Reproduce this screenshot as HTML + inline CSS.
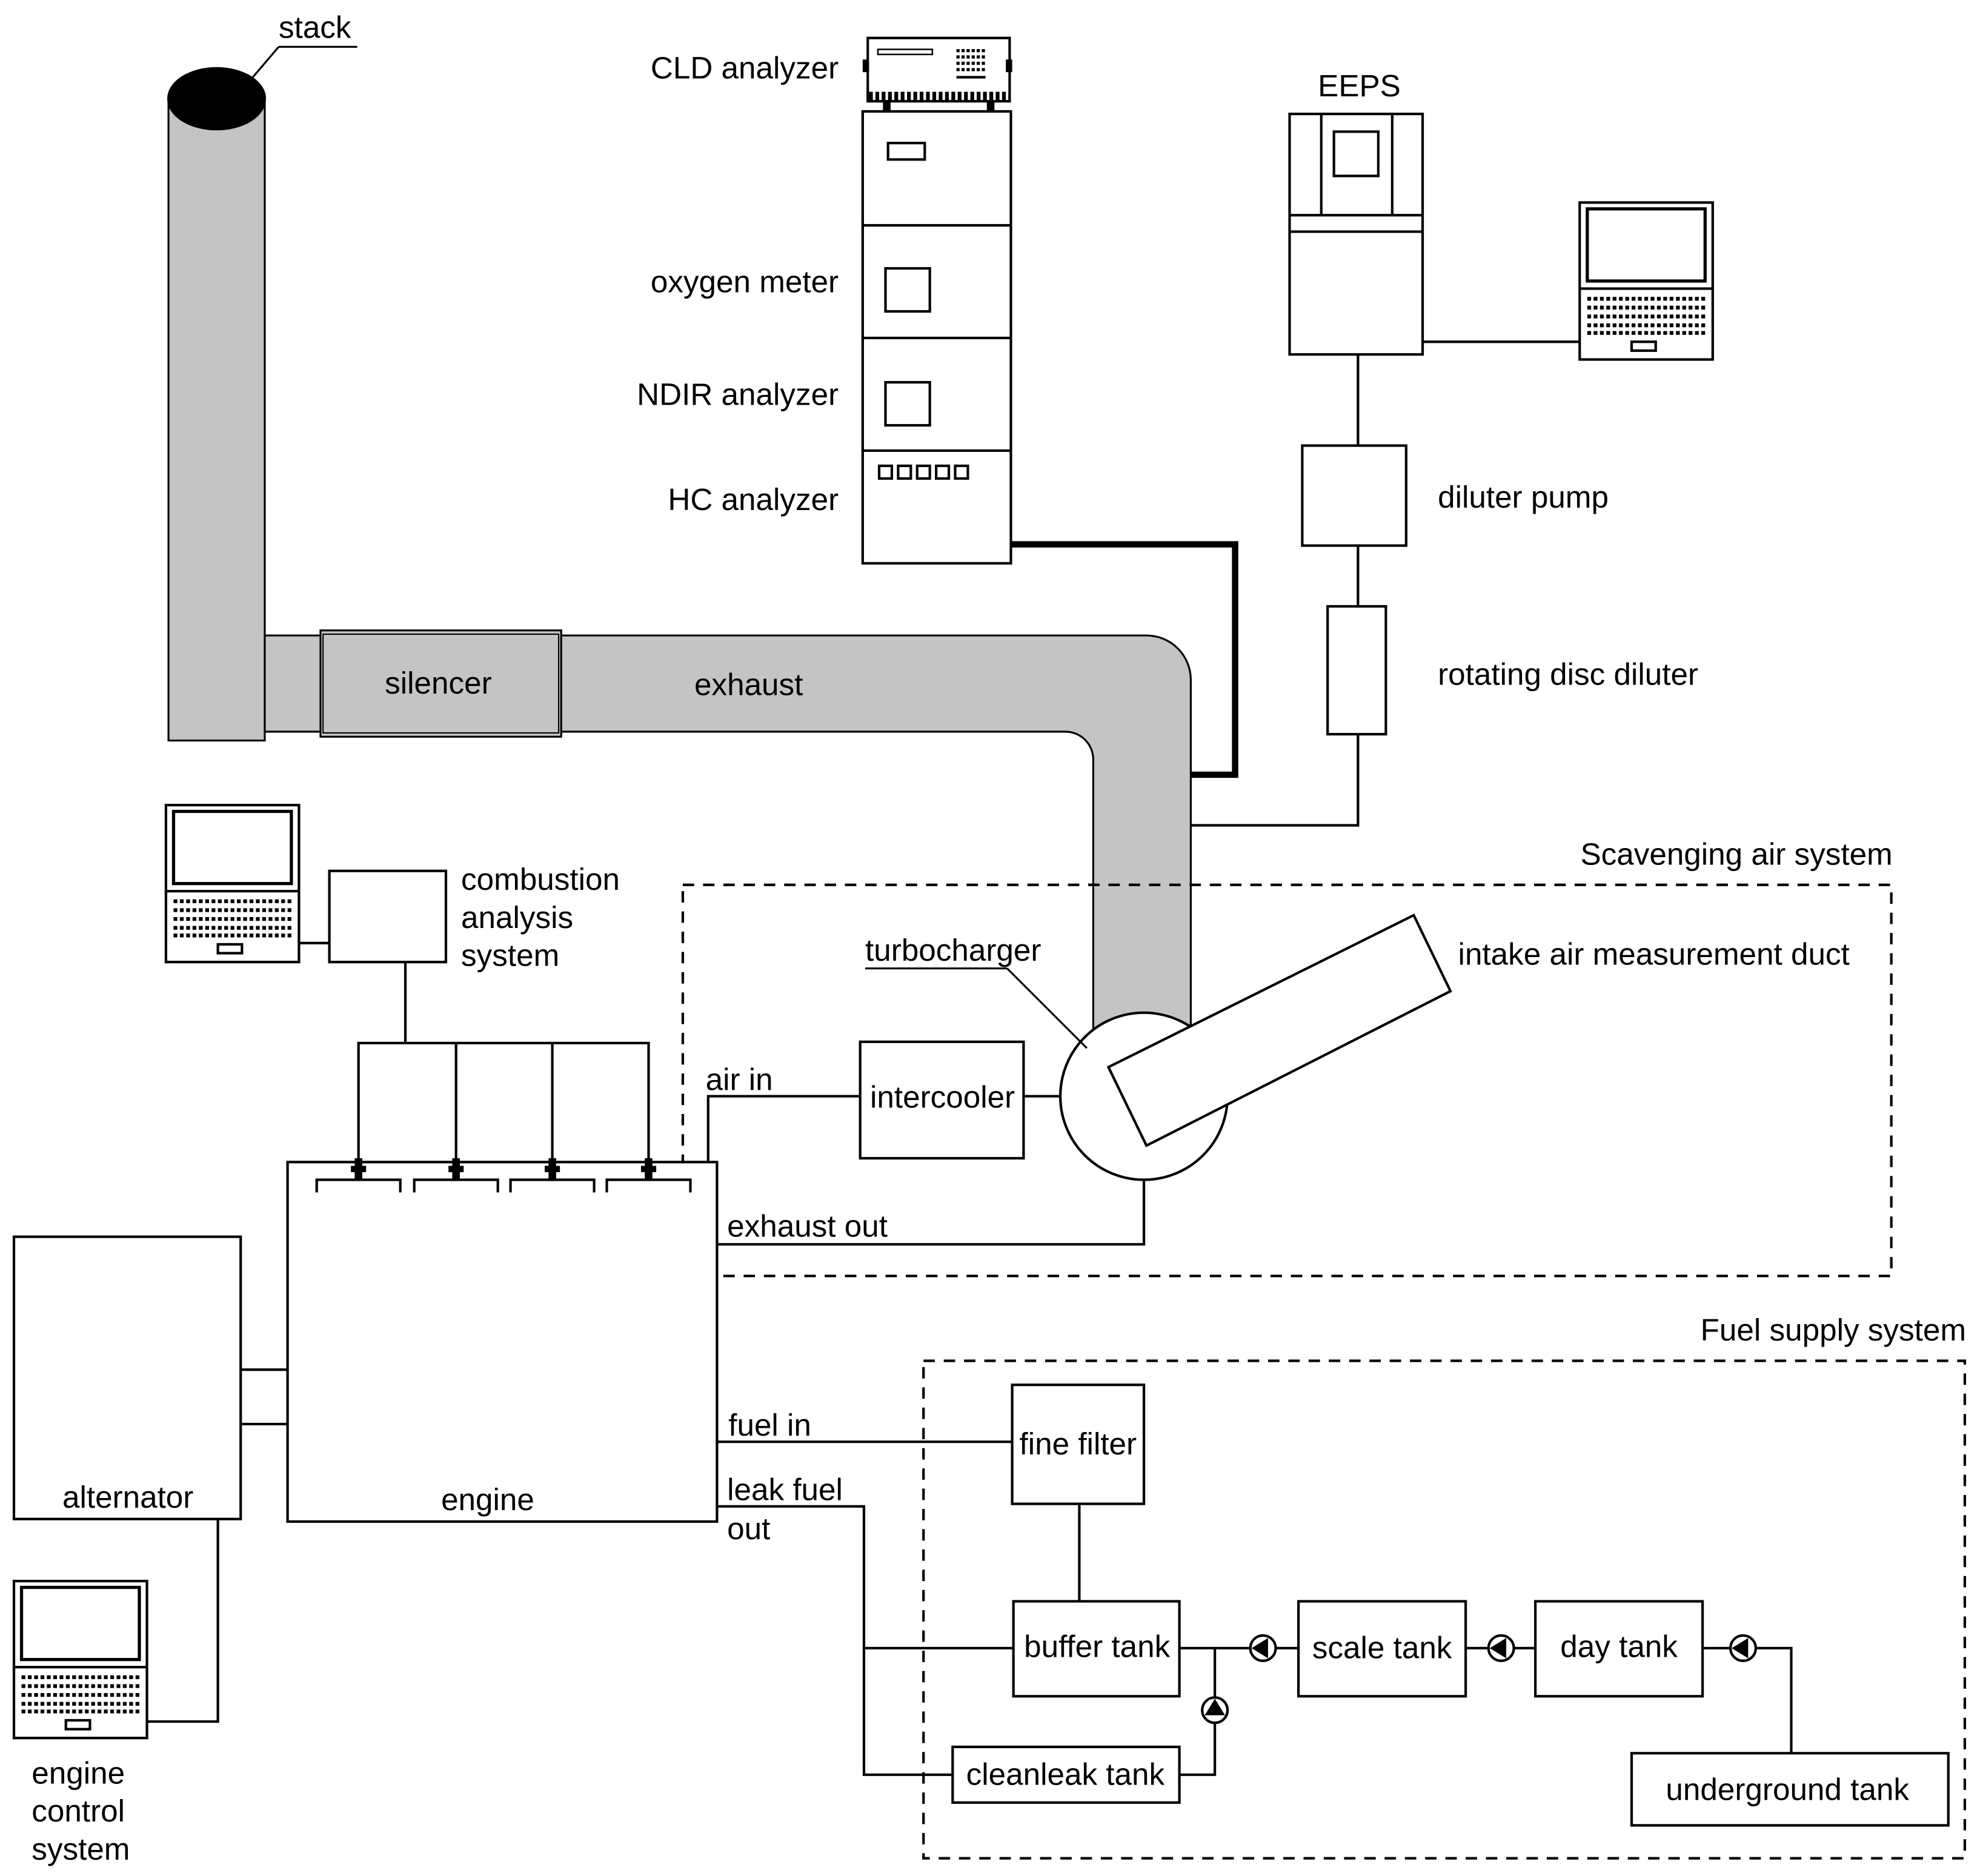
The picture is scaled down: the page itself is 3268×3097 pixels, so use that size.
<!DOCTYPE html>
<html><head><meta charset="utf-8"><style>
html,body{margin:0;padding:0;background:#fff;}
svg{display:block;}
text{font-family:"Liberation Sans",Arial,sans-serif;font-size:24.5px;fill:#000;}
</style></head><body>
<svg width="3268" height="3097" viewBox="0 0 1563 1482" preserveAspectRatio="none" xmlns="http://www.w3.org/2000/svg">
<defs>
<g id="laptop">
<rect x="0" y="0" width="105" height="124" fill="#fff" stroke="#000" stroke-width="2"/>
<rect x="6" y="5" width="93" height="57" fill="#fff" stroke="#000" stroke-width="2.5"/>
<line x1="0" y1="68" x2="105" y2="68" stroke="#000" stroke-width="2"/>
<g stroke="#000" stroke-width="3" stroke-dasharray="3,2">
<line x1="6" y1="76" x2="99" y2="76"/>
<line x1="6" y1="83" x2="99" y2="83"/>
<line x1="6" y1="90" x2="99" y2="90"/>
<line x1="6" y1="97" x2="99" y2="97"/>
<line x1="6" y1="103" x2="99" y2="103"/>
</g>
<rect x="41" y="110" width="19" height="7" fill="#fff" stroke="#000" stroke-width="2"/>
</g>
<g id="pumpL">
<circle cx="0" cy="0" r="10" fill="#fff" stroke="#000" stroke-width="2"/>
<polygon points="-9,0 4,-8 4,8" fill="#000"/>
</g>
</defs>
<g fill="none" stroke="#000" stroke-width="2">
<rect x="133" y="78" width="76" height="507" fill="#c4c4c4" stroke-width="1.5"/>
<ellipse cx="171" cy="78" rx="38" ry="24" fill="#000"/>
<line x1="220" y1="37" x2="282" y2="37" stroke-width="1.5"/>
<line x1="220" y1="37" x2="197" y2="64" stroke-width="1.5"/>
<path d="M209,502 L905,502 A35,35 0 0 1 940,537 L940,815 L863,815 L863,600 A22,22 0 0 0 841,578 L209,578 Z" fill="#c4c4c4" stroke-width="1.5"/>
<rect x="253" y="498" width="190" height="84" fill="#c4c4c4" stroke-width="1.5"/>
<rect x="255" y="501" width="186" height="78" stroke-width="1"/>
<rect x="685" y="30" width="112" height="50" fill="#fff"/>
<rect x="693" y="39" width="43" height="4" stroke-width="1.2"/>
<g stroke-width="2.5" stroke-dasharray="2.5,1.5"><line x1="755" y1="40" x2="778" y2="40"/><line x1="755" y1="45" x2="778" y2="45"/><line x1="755" y1="50" x2="778" y2="50"/><line x1="755" y1="55" x2="778" y2="55"/></g>
<line x1="755" y1="61" x2="778" y2="61" stroke-width="2"/>
<line x1="686" y1="76" x2="797" y2="76" stroke-width="7" stroke-dasharray="3,2"/>
<rect x="681" y="47" width="5" height="10" fill="#000" stroke="none"/>
<rect x="794" y="47" width="5" height="10" fill="#000" stroke="none"/>
<rect x="697" y="80" width="6" height="8" fill="#000" stroke="none"/>
<rect x="779" y="80" width="6" height="8" fill="#000" stroke="none"/>
<rect x="681" y="88" width="117" height="357" fill="#fff"/>
<line x1="681" y1="178" x2="798" y2="178"/>
<line x1="681" y1="267" x2="798" y2="267"/>
<line x1="681" y1="356" x2="798" y2="356"/>
<rect x="701" y="113" width="29" height="13"/>
<rect x="699" y="212" width="35" height="34"/>
<rect x="699" y="302" width="35" height="34"/>
<rect x="694" y="368" width="10" height="10"/><rect x="709" y="368" width="10" height="10"/><rect x="724" y="368" width="10" height="10"/><rect x="739" y="368" width="10" height="10"/><rect x="754" y="368" width="10" height="10"/>
<polyline points="798,430 975,430 975,612 940,612" stroke-width="5"/>
<rect x="1018" y="90" width="105" height="190" fill="#fff"/>
<line x1="1043" y1="90" x2="1043" y2="170"/><line x1="1099" y1="90" x2="1099" y2="170"/>
<rect x="1053" y="104" width="35" height="35"/>
<line x1="1018" y1="170" x2="1123" y2="170"/><line x1="1018" y1="183" x2="1123" y2="183"/>
<line x1="1123" y1="270" x2="1247" y2="270"/>
<line x1="1072" y1="280" x2="1072" y2="352"/>
<rect x="1028" y="352" width="82" height="79"/>
<line x1="1072" y1="431" x2="1072" y2="479"/>
<rect x="1048" y="479" width="46" height="101"/>
<polyline points="1072,580 1072,652 940,652"/>
<rect x="539" y="699" width="954" height="309" stroke-dasharray="9,7"/>
<circle cx="903" cy="866" r="66" fill="#fff"/>
<polygon points="875,843 1116,723 1145,783 905,905" fill="#fff"/>
<line x1="683" y1="765" x2="795" y2="765" stroke-width="1.5"/>
<line x1="795" y1="765" x2="858" y2="828" stroke-width="1.5"/>
<rect x="679" y="823" width="129" height="92"/>
<line x1="808" y1="866" x2="837" y2="866"/>
<polyline points="679,866 559,866 559,918"/>
<polyline points="903,932 903,983 566,983"/>
<rect x="227" y="918" width="339" height="284" fill="#fff"/>
<polyline points="250,942 250,932 316,932 316,942"/>
<polyline points="327,942 327,932 393,932 393,942"/>
<polyline points="403,942 403,932 469,932 469,942"/>
<polyline points="479,942 479,932 545,932 545,942"/>
<polyline points="283,924 283,824 512,824 512,924"/>
<line x1="360" y1="824" x2="360" y2="924"/>
<line x1="436" y1="824" x2="436" y2="924"/>
<line x1="320" y1="824" x2="320" y2="760"/>
<rect x="260" y="688" width="92" height="72"/>
<line x1="236" y1="745" x2="260" y2="745"/>
<rect x="11" y="977" width="179" height="223"/>
<line x1="190" y1="1082" x2="227" y2="1082"/>
<line x1="190" y1="1125" x2="227" y2="1125"/>
<polyline points="172,1200 172,1360 115,1360"/>
<rect x="729" y="1075" width="822" height="393" stroke-dasharray="9,7"/>
<line x1="566" y1="1139" x2="799" y2="1139"/>
<rect x="799" y="1094" width="104" height="94"/>
<line x1="852" y1="1188" x2="852" y2="1265"/>
<rect x="800" y="1265" width="131" height="75"/>
<polyline points="566,1190 682,1190 682,1402 752,1402"/>
<line x1="682" y1="1302" x2="800" y2="1302"/>
<rect x="752" y="1380" width="179" height="44"/>
<line x1="931" y1="1302" x2="1025" y2="1302"/>
<polyline points="959,1302 959,1402 931,1402"/>
<rect x="1025" y="1265" width="132" height="75"/>
<line x1="1157" y1="1302" x2="1212" y2="1302"/>
<rect x="1212" y="1265" width="132" height="75"/>
<polyline points="1344,1302 1414,1302 1414,1385"/>
<rect x="1288" y="1385" width="250" height="57"/>
</g>
<g fill="#000">
<rect x="280" y="915" width="6" height="16"/><rect x="277" y="921" width="12" height="5"/>
<rect x="357" y="915" width="6" height="16"/><rect x="354" y="921" width="12" height="5"/>
<rect x="433" y="915" width="6" height="16"/><rect x="430" y="921" width="12" height="5"/>
<rect x="509" y="915" width="6" height="16"/><rect x="506" y="921" width="12" height="5"/>
</g>
<use href="#pumpL" x="997" y="1302"/>
<use href="#pumpL" x="1185" y="1302"/>
<use href="#pumpL" x="1376" y="1302"/>
<g transform="translate(959,1351)"><circle cx="0" cy="0" r="10" fill="#fff" stroke="#000" stroke-width="2"/><polygon points="0,-9 -8,4 8,4" fill="#000"/></g>
<use href="#laptop" x="1247" y="160"/>
<use href="#laptop" x="131" y="636"/>
<use href="#laptop" x="11" y="1249"/>
<text x="220" y="30">stack</text>
<text x="662" y="62" text-anchor="end">CLD analyzer</text>
<text x="662" y="231" text-anchor="end">oxygen meter</text>
<text x="662" y="320" text-anchor="end">NDIR analyzer</text>
<text x="662" y="403" text-anchor="end">HC analyzer</text>
<text x="1073" y="76" text-anchor="middle">EEPS</text>
<text x="1135" y="401">diluter pump</text>
<text x="1135" y="541">rotating disc diluter</text>
<text x="346" y="548" text-anchor="middle">silencer</text>
<text x="591" y="549" text-anchor="middle">exhaust</text>
<text x="1494" y="683" text-anchor="end">Scavenging air system</text>
<text x="683" y="759">turbocharger</text>
<text x="1151" y="762">intake air measurement duct</text>
<text x="364" y="703">combustion</text>
<text x="364" y="733">analysis</text>
<text x="364" y="763">system</text>
<text x="557" y="861">air in</text>
<text x="744" y="875" text-anchor="middle">intercooler</text>
<text x="574" y="977">exhaust out</text>
<text x="385" y="1193" text-anchor="middle">engine</text>
<text x="101" y="1191" text-anchor="middle">alternator</text>
<text x="25" y="1409">engine</text>
<text x="25" y="1439">control</text>
<text x="25" y="1469">system</text>
<text x="1552" y="1059" text-anchor="end">Fuel supply system</text>
<text x="575" y="1134">fuel in</text>
<text x="851" y="1149" text-anchor="middle">fine filter</text>
<text x="574" y="1185">leak fuel</text>
<text x="574" y="1216">out</text>
<text x="866" y="1309" text-anchor="middle">buffer tank</text>
<text x="841" y="1410" text-anchor="middle">cleanleak tank</text>
<text x="1091" y="1310" text-anchor="middle">scale tank</text>
<text x="1278" y="1309" text-anchor="middle">day tank</text>
<text x="1411" y="1422" text-anchor="middle">underground tank</text>
</svg>
</body></html>
